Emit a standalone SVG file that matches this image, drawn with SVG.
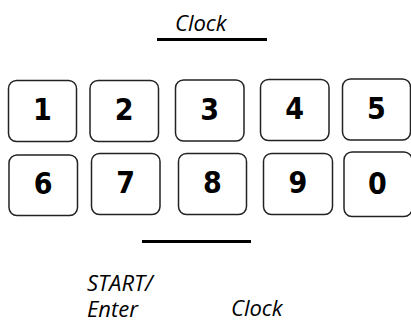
<svg xmlns="http://www.w3.org/2000/svg" width="411" height="327" viewBox="0 0 411 327">
<style>
.key rect{fill:#fff;stroke:#222;stroke-width:1.5}
.key text{font-family:"DejaVu Sans Condensed","DejaVu Sans",sans-serif;font-weight:bold;font-size:30px;fill:#000;text-anchor:middle}
.lbl{font-family:"Open Sans",sans-serif;font-style:italic;font-size:22px;fill:#000}
.bar{stroke:#000;stroke-width:3}
</style>
<rect width="411" height="327" fill="#fff"/>
<g id="label-clock-top"><text class="lbl" x="175" y="31">Clock</text></g>
<g id="connectors">
<line class="bar" x1="157" y1="39.5" x2="267" y2="39.5"/>
<line class="bar" x1="142" y1="241.5" x2="251" y2="241.5"/>
</g>
<g id="key1" class="key"><rect x="8.5" y="80.5" width="68" height="61" rx="8"/><text x="42.5" y="120">1</text></g>
<g id="key2" class="key"><rect x="90" y="80.5" width="68.5" height="61" rx="8"/><text x="124.2" y="120">2</text></g>
<g id="key3" class="key"><rect x="175.5" y="80" width="68.5" height="61" rx="8"/><text x="209.7" y="119.5">3</text></g>
<g id="key4" class="key"><rect x="260.5" y="79.5" width="68.5" height="61" rx="8"/><text x="294.7" y="119">4</text></g>
<g id="key5" class="key"><rect x="342.5" y="79" width="68" height="61" rx="8"/><text x="376.5" y="118.5">5</text></g>
<g id="key6" class="key"><rect x="9" y="155" width="68.5" height="60.5" rx="8"/><text x="43.2" y="194">6</text></g>
<g id="key7" class="key"><rect x="91.5" y="153.5" width="68.5" height="61" rx="8"/><text x="125.7" y="193">7</text></g>
<g id="key8" class="key"><rect x="178.5" y="153.5" width="68" height="61" rx="8"/><text x="212.5" y="193">8</text></g>
<g id="key9" class="key"><rect x="263.5" y="153.5" width="69" height="61" rx="8"/><text x="298" y="193">9</text></g>
<g id="key0" class="key"><rect x="344" y="152" width="68" height="64.5" rx="8"/><text x="377.5" y="193.5">0</text></g>
<g id="label-start"><text class="lbl" x="87" y="291">START/</text><text class="lbl" x="87" y="316.5">Enter</text></g>
<g id="label-clock-bottom"><text class="lbl" x="231" y="316">Clock</text></g>
</svg>
